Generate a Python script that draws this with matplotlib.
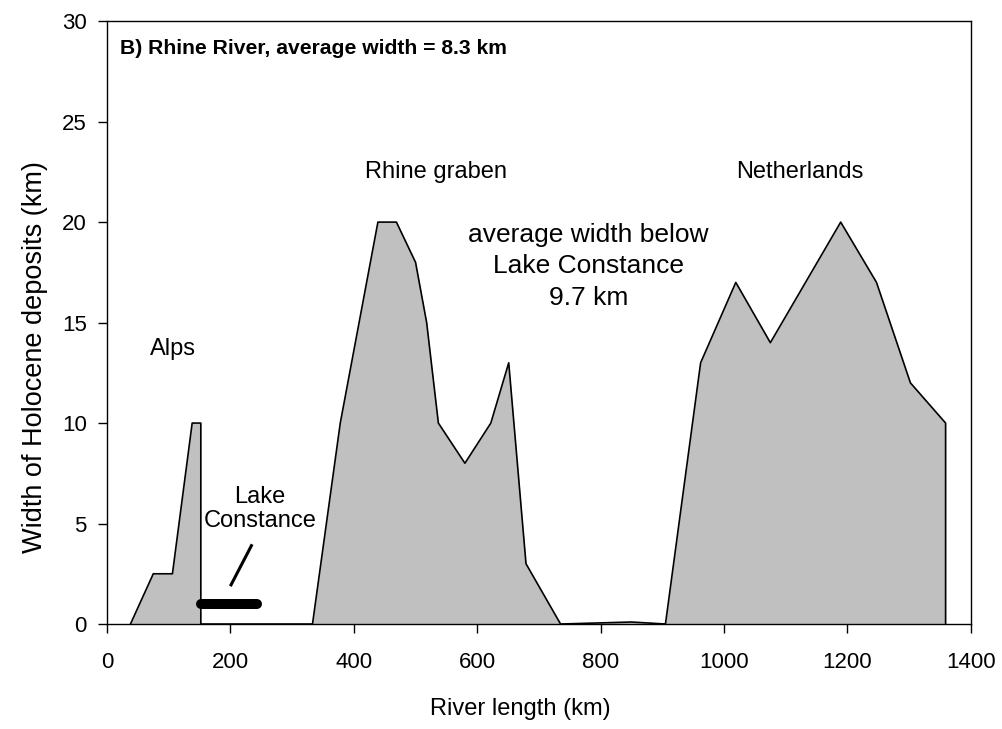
import matplotlib
matplotlib.use("Agg")
import matplotlib.pyplot as plt

plt.rcParams['font.family'] = ['Liberation Sans', 'DejaVu Sans']

# river profile (km along river, width of Holocene deposits in km)
river_km = [38, 75, 106, 138, 152, 152, 333, 378, 439, 469, 500, 518, 537,
            580, 622, 651, 679, 735, 850, 905, 962, 1019, 1075, 1189, 1247,
            1302, 1359, 1359]
width_km = [0, 2.5, 2.5, 10, 10, 0, 0, 10, 20, 20, 18, 15, 10,
            8, 10, 13, 3, 0, 0.1, 0, 13, 17, 14, 20, 17,
            12, 10, 0]

# Lake Constance marker
lake_x = [152, 243]
lake_y = [1, 1]
pointer_x = [201, 234]
pointer_y = [1.95, 3.9]

x_ticks = [0, 200, 400, 600, 800, 1000, 1200, 1400]
y_ticks = [0, 5, 10, 15, 20, 25, 30]


def make_plot(outfile):
    fig = plt.figure(figsize=(10.03, 7.29), dpi=100)
    ax = fig.add_axes([0.1067, 0.144, 0.8613, 0.827])

    ax.fill_between(river_km, width_km, 0, color='#c0c0c0', linewidth=0)
    ax.plot(river_km, width_km, color='black', linewidth=1.2)

    ax.plot(lake_x, lake_y, color='black', linewidth=7.2,
            solid_capstyle='round')
    ax.plot(pointer_x, pointer_y, color='black', linewidth=2.2)

    ax.text(21, 28.65, "B) Rhine River, average width = 8.3 km",
            fontsize=15.2, fontweight='bold', va='center', ha='left')
    ax.text(107, 13.7, "Alps", fontsize=17, ha='center', va='center')
    ax.text(248, 5.7, "Lake\nConstance", fontsize=17, ha='center',
            va='center', linespacing=1.12)
    ax.text(533, 22.5, "Rhine graben", fontsize=17, ha='center',
            va='center')
    ax.text(1122, 22.5, "Netherlands", fontsize=17, ha='center',
            va='center')
    ax.text(780, 17.8, "average width below\nLake Constance\n9.7 km",
            fontsize=19, ha='center', va='center', linespacing=1.38)

    ax.set_xlim(0, 1400)
    ax.set_ylim(0, 30)
    ax.set_xticks(x_ticks)
    ax.set_yticks(y_ticks)
    ax.tick_params(axis='both', labelsize=16, length=6.5, width=1,
                   direction='out')
    ax.tick_params(axis='x', pad=14)
    ax.tick_params(axis='y', pad=8)
    for s in ax.spines.values():
        s.set_linewidth(1)

    ax.set_xlabel("River length (km)", fontsize=17, labelpad=18)
    ax.set_ylabel("Width of Holocene deposits (km)", fontsize=19.5,
                  labelpad=10)
    ax.xaxis.label.set_x(0.478)
    ax.yaxis.label.set_y(0.443)

    fig.savefig(outfile, dpi=100)


if __name__ == '__main__':
    make_plot("out.png")
